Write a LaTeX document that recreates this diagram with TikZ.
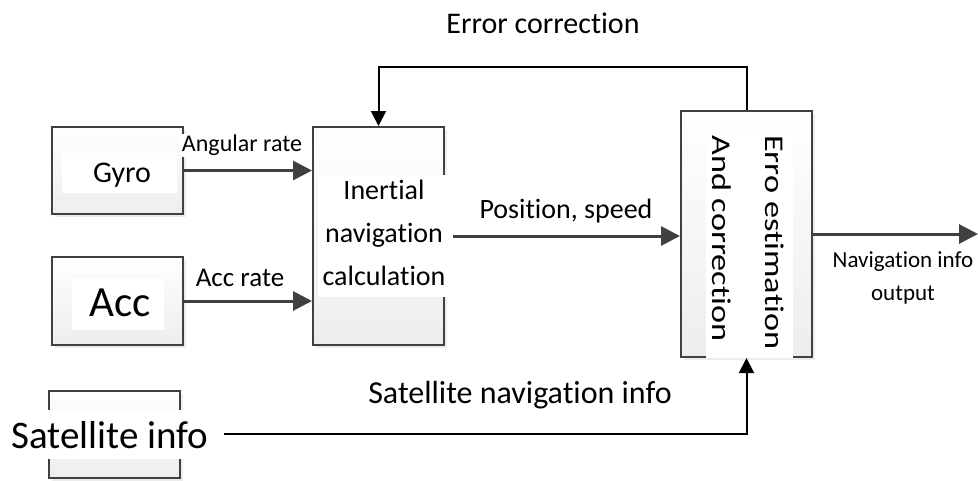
\documentclass[tikz,border=0pt]{standalone}
\usepackage{fontspec}
\setmainfont{Carlito}[Ligatures={NoCommon}]
\usetikzlibrary{arrows.meta,shadows,calc}
\definecolor{dk}{HTML}{404040}
\newcommand{\fs}[1]{\fontsize{#1}{#1}\selectfont}
\begin{document}
\begin{tikzpicture}[x=1pt,y=-1pt,
  blk/.style={draw=dk, line width=2pt, top color=white, bottom color=black!7,
    drop shadow={shadow xshift=3pt, shadow yshift=-3pt, fill=black!12, opacity=0.6},
    inner sep=0pt},
  patch/.style={fill=white, inner sep=0pt},
  lbl/.style={inner sep=0pt, anchor=base},
  mainarr/.style={draw=dk, line width=3pt, -{Triangle[length=19pt,width=19pt]}},
  thinarr/.style={draw=black, line width=2pt, -{Triangle[length=15pt,width=15pt]}}
]
\useasboundingbox (0,0) rectangle (978,480);

% boxes
\node[blk, minimum width=131pt, minimum height=87pt] (gyro) at (117.5,170.5) {};
\node[blk, minimum width=131pt, minimum height=88pt] (acc) at (117.5,301) {};
\node[blk, minimum width=131pt, minimum height=87pt] (sat) at (114.5,434.5) {};
\node[blk, minimum width=131pt, minimum height=218pt] (inert) at (378.5,236) {};
\node[blk, minimum width=131pt, minimum height=246pt] (erro) at (746.5,234) {};

% white patches behind texts
\node[patch, minimum width=115pt, minimum height=40pt] (gyrop) at (119.5,173) {};
\node[patch, minimum width=92pt, minimum height=52pt] (accp) at (118,304) {};
\node[patch, minimum width=216pt, minimum height=49pt] (satp) at (111,434) {};
\node[patch, minimum width=130pt, minimum height=122pt] (inertp) at (383,236) {};
\node[patch, minimum width=87pt, minimum height=223pt] (errop) at (749.5,246.5) {};

% box texts
\node[lbl, font=\fs{30}] (gyrot) at (122,182) {Gyro};
\node[lbl, font=\fs{43}] (acct) at (120,316) {Acc};
\node[lbl, font=\fs{39}] (satt) at (110,448) {Satellite info};
\node[lbl, font=\fs{28}] (inert1) at (384,199) {Inertial};
\node[lbl, font=\fs{28}] (inert2) at (384,242) {navigation};
\node[lbl, font=\fs{28}] (inert3) at (384,285) {calculation};
\node[inner sep=0pt, rotate=-90, anchor=base west, font=\fs{27}] (erro1) at (765,135) {\scalebox{1.27}[1]{Erro estimation}};
\node[inner sep=0pt, rotate=-90, anchor=base west, font=\fs{27}] (erro2) at (712,135) {\scalebox{1.27}[1]{And correction}};

% connector labels
\node[lbl, font=\fs{24}, fill=white, inner sep=1pt] (angl) at (242,151.7) {Angular rate};
\node[lbl, font=\fs{27}] (accl) at (240,286.7) {Acc rate};
\node[lbl, font=\fs{28}] (posl) at (566,218) {Position, speed};
\node[lbl, font=\fs{30}] (errl) at (543,33) {Error correction};
\node[lbl, font=\fs{32}] (satl) at (520,403) {Satellite navigation info};
\node[lbl, font=\fs{23}] (nav1) at (903,267) {Navigation info};
\node[lbl, font=\fs{23}] (nav2) at (903,300) {output};

% connectors
\draw[mainarr] (gyro.east) -- (gyro.east -| inert.west);
\draw[mainarr] (acc.east) -- (acc.east -| inert.west);
\draw[mainarr, shorten <=5pt] (inertp.east) -- (inertp.east -| erro.west);
\coordinate (outend) at (978,234);
\draw[mainarr] (erro.east) -- (outend);
\coordinate (fbtop) at (560,67);
\draw[thinarr] (erro.north) |- (fbtop) -| (inert.north);
\draw[thinarr, shorten <=5pt] (satp.east) -| (erro.south);
\end{tikzpicture}
\end{document}
